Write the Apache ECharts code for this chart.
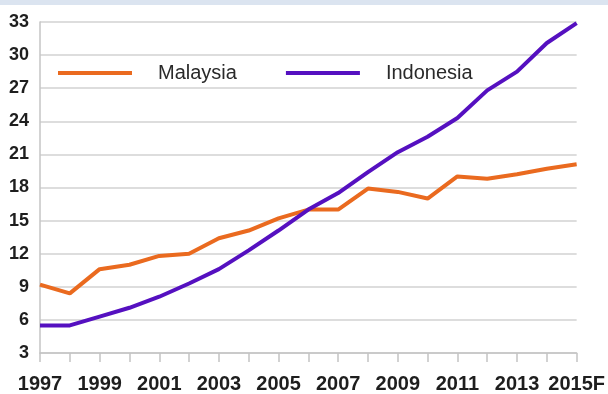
<!DOCTYPE html>
<html>
<head>
<meta charset="utf-8">
<script src="https://cdn.jsdelivr.net/npm/echarts@6/dist/echarts.min.js"></script>
<style>
  html, body { margin: 0; padding: 0; background: #fff; }
  #chart { width: 608px; height: 394px; }
</style>
</head>
<body>
<div id="chart"></div>
<script>
// Years on the category axis (last one is a forecast)
const years = ['1997','1998','1999','2000','2001','2002','2003','2004','2005','2006',
               '2007','2008','2009','2010','2011','2012','2013','2014','2015F'];

// Series values per year
const malaysia  = [9.2, 8.4, 10.6, 11.0, 11.8, 12.0, 13.4, 14.1, 15.2, 16.0,
                   16.0, 17.9, 17.6, 17.0, 19.0, 18.8, 19.2, 19.7, 20.1];
const indonesia = [5.5, 5.5, 6.3, 7.1, 8.1, 9.3, 10.6, 12.3, 14.1, 16.0,
                   17.5, 19.4, 21.2, 22.6, 24.3, 26.8, 28.5, 31.1, 32.9];

// Value axis range
const yMin = 3, yMax = 33, yStep = 3;

const chart = echarts.init(document.getElementById('chart'));
const boldFont = { fontFamily: 'Liberation Sans, Arial, sans-serif', fontWeight: 'bold', color: '#1e1e1e' };

chart.setOption({
  animation: false,
  backgroundColor: '#ffffff',
  graphic: [{
    type: 'rect',
    shape: { x: 0, y: 0, width: 608, height: 5 },
    style: { fill: '#dbe4f0' },
    silent: true
  }],
  grid: { left: 40, right: 30, top: 22, bottom: 41, containLabel: false },
  legend: {
    top: 58,
    left: 53,
    itemWidth: 74,
    itemHeight: 4,
    itemGap: 49,
    icon: 'rect',
    textStyle: {
      fontFamily: 'Liberation Sans, Arial, sans-serif',
      fontSize: 20,
      color: '#2a2a2a',
      padding: [0, 0, 0, 21]
    },
    data: ['Malaysia', 'Indonesia']
  },
  xAxis: {
    type: 'category',
    data: years,
    boundaryGap: false,
    axisLine: { lineStyle: { color: '#c4c4c4', width: 1.5 } },
    axisTick: { show: true, length: 9, interval: 0, lineStyle: { color: '#c4c4c4', width: 1.5 } },
    axisLabel: Object.assign({ interval: 1, margin: 21, fontSize: 20 }, boldFont),
    splitLine: { show: false }
  },
  yAxis: {
    type: 'value',
    min: yMin, max: yMax, interval: yStep,
    axisLine: { show: true, lineStyle: { color: '#c4c4c4', width: 1.5 } },
    axisTick: { show: false },
    axisLabel: Object.assign({ margin: 11, fontSize: 18 }, boldFont),
    splitLine: { lineStyle: { color: '#d2d2d2', width: 1.5 } }
  },
  series: [
    {
      name: 'Malaysia',
      type: 'line',
      data: malaysia,
      symbol: 'none',
      color: '#ea6a1f',
      lineStyle: { width: 4, color: '#ea6a1f' }
    },
    {
      name: 'Indonesia',
      type: 'line',
      data: indonesia,
      symbol: 'none',
      color: '#5510c0',
      lineStyle: { width: 4, color: '#5510c0' }
    }
  ]
});
</script>
</body>
</html>
